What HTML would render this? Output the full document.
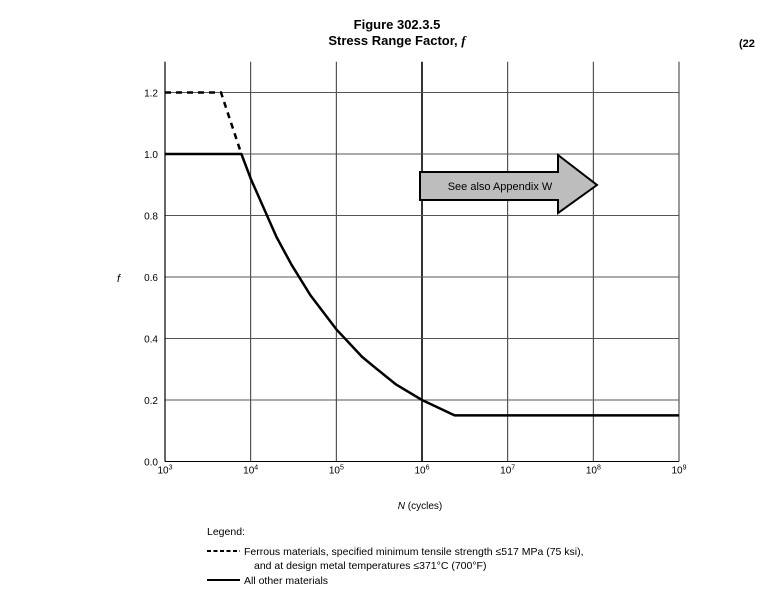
<!DOCTYPE html>
<html><head><meta charset="utf-8"><style>
html,body{margin:0;padding:0;background:#fff;}
body{width:760px;height:605px;overflow:hidden;font-family:"Liberation Sans",sans-serif;}
svg text{font-family:"Liberation Sans",sans-serif;}
</style></head><body>
<svg id="chart" width="760" height="605" viewBox="0 0 760 605" xmlns="http://www.w3.org/2000/svg">
<text x="397" y="29" text-anchor="middle" font-size="13" font-weight="bold">Figure 302.3.5</text>
<text x="397" y="45" text-anchor="middle" font-size="13" font-weight="bold">Stress Range Factor, <tspan font-style="italic" font-family="Liberation Serif">f</tspan></text>
<text x="739" y="47" font-size="11" font-family="Liberation Serif" font-weight="bold">(22</text>
<g id="grid"></g>
<g id="axes"></g>
<g id="series"></g>
<g>
<polygon points="420,172 558,172 558,155 597,185 558,213 558,200 420,200" fill="#bdbdbd" stroke="#000" stroke-width="2"/>
<text x="500" y="190" text-anchor="middle" font-size="11">See also Appendix W</text>
</g>
<text x="117" y="282" font-size="11" font-style="italic" font-family="Liberation Serif">f</text>
<text x="420" y="509" text-anchor="middle" font-size="10"><tspan font-style="italic">N</tspan> (cycles)</text>
<g>
<text x="207" y="535" font-size="10.5">Legend:</text>
<line x1="207" y1="551" x2="240" y2="551" stroke="#000" stroke-width="2" stroke-dasharray="4,2.5"/>
<text x="244" y="555" font-size="10.5">Ferrous materials, specified minimum tensile strength ≤517 MPa (75 ksi),</text>
<text x="254" y="569" font-size="10.5">and at design metal temperatures ≤371°C (700°F)</text>
<line x1="207" y1="580" x2="240" y2="580" stroke="#000" stroke-width="2"/>
<text x="244" y="584" font-size="10.5">All other materials</text>
</g>
</svg>
<script>
const xTickExps = [3,4,5,6,7,8,9];
const yTicks = [0.0,0.2,0.4,0.6,0.8,1.0,1.2];
const yTickLabels = ["0.0","0.2","0.4","0.6","0.8","1.0","1.2"];
const solidN = [1e3,7.8e3,1e4,2e4,3e4,5e4,1e5,2e5,3e5,5e5,1e6,2.4e6,1e9];
const solidF = [1.0,1.0,0.92,0.73,0.64,0.54,0.43,0.34,0.30,0.25,0.20,0.15,0.15];
const dashedN = [1e3,4.5e3,7.8e3];
const dashedF = [1.2,1.2,1.0];

const X0=165, X1=679, Y0=461.5, YPER=307.5;
const xS = n => X0 + (Math.log10(n)-3)/6*(X1-X0);
const yS = f => Y0 - f*YPER;
const NS="http://www.w3.org/2000/svg";
function mk(tag, parent){const e=document.createElementNS(NS,tag);parent.appendChild(e);return e;}
const gridG=document.getElementById('grid'), axesG=document.getElementById('axes'), seriesG=document.getElementById('series');
const yTop=yS(1.3);
xTickExps.forEach(e=>{
  const x=xS(Math.pow(10,e));
  const l=mk('line',gridG);
  
  
  l.setAttribute('x1',x);l.setAttribute('x2',x);l.setAttribute('y1',yTop);l.setAttribute('y2',Y0);
  l.setAttribute('stroke',e===6?'#000':'#333');l.setAttribute('stroke-width',e===6?1.6:1);
  const t=mk('text',axesG);
  
  
  t.setAttribute('x',x);t.setAttribute('y',Y0+12);t.setAttribute('text-anchor','middle');t.setAttribute('font-size','10');
  t.innerHTML='10<tspan font-size="7" dy="-4">'+e+'</tspan>';
});
yTicks.forEach((v,i)=>{
  const y=yS(v);
  const l=mk('line',gridG);
  
  
  l.setAttribute('x1',X0);l.setAttribute('x2',X1);l.setAttribute('y1',y);l.setAttribute('y2',y);
  l.setAttribute('stroke',v===0?'#000':'#555');l.setAttribute('stroke-width',1);
  const t=mk('text',axesG);
  
  
  t.setAttribute('x',X0-7);t.setAttribute('y',y+4);t.setAttribute('text-anchor','end');t.setAttribute('font-size','10');
  t.textContent=yTickLabels[i];
});
const frame=mk('line',axesG);


frame.setAttribute('x1',X0);frame.setAttribute('x2',X0);frame.setAttribute('y1',yTop);frame.setAttribute('y2',Y0);
frame.setAttribute('stroke','#000');frame.setAttribute('stroke-width',1.2);
function pathD(N,F){return N.map((n,i)=>(i?'L':'M')+xS(n).toFixed(1)+','+yS(F[i]).toFixed(1)).join(' ');}
const d=mk('path',seriesG);


d.setAttribute('d',pathD(dashedN,dashedF));d.setAttribute('fill','none');d.setAttribute('stroke','#000');
d.setAttribute('stroke-width',2.5);d.setAttribute('stroke-dasharray','6,5');
const s=mk('path',seriesG);


s.setAttribute('d',pathD(solidN,solidF));s.setAttribute('fill','none');s.setAttribute('stroke','#000');
s.setAttribute('stroke-width',2.5);s.setAttribute('stroke-linejoin','round');
</script>
</body></html>
